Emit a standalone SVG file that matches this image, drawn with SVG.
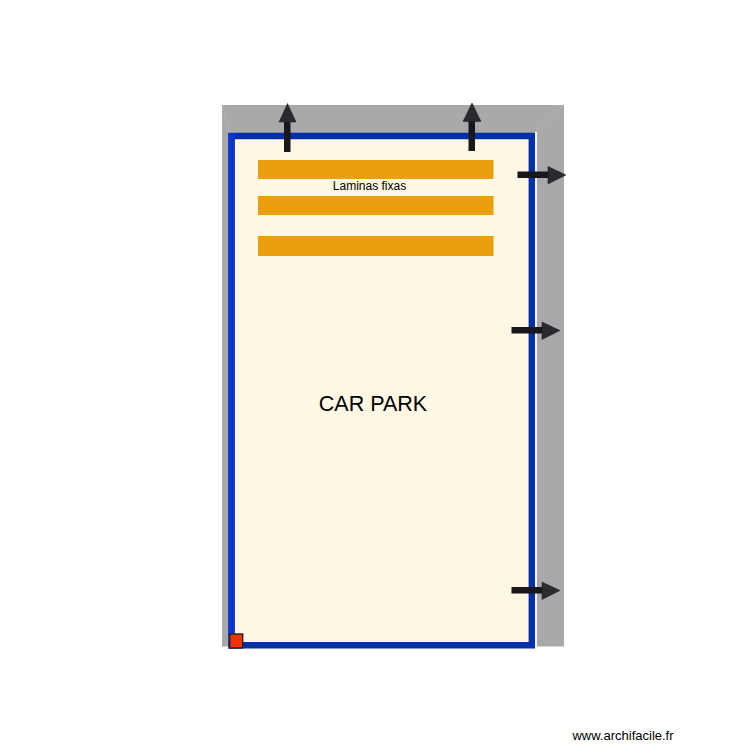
<svg xmlns="http://www.w3.org/2000/svg" width="750" height="750" viewBox="0 0 750 750">
<style>
text{font-family:"Liberation Sans",Arial,sans-serif;fill:#000}
.slat{fill:#ec9f0e}
.shaft{fill:#17171c}
.head{fill:#2a2a30;stroke:#1a1a1e;stroke-width:.5}
</style>
<rect width="750" height="750" fill="#fff"/>
<g id="surround">
<path d="M222 105H564V646.500H222Z" fill="#a9a9a9"/>
<path d="M222 105L230 133M564 105L534 133" stroke="#b8b8b8" stroke-width=".8" fill="none"/>
</g>
<g id="car-park">
<rect x="535" y="132" width="2" height="515" fill="#f4f4f4"/>
<rect x="231" y="135" width="302" height="511" fill="#fdf7e4"/>
<path d="M231.500 136H531.800V645.300H231.500Z" fill="none" stroke="#0431ab" stroke-width="6.400"/>
<path d="M231.500 133V648.500" stroke="#0a35d0" stroke-width="6.400"/>
<text x="373" y="410.500" font-size="21.500" text-anchor="middle">CAR PARK</text>
</g>
<g id="laminas">
<rect class="slat" x="258" y="160" width="235.500" height="19"/>
<rect class="slat" x="258" y="196" width="235.500" height="19"/>
<rect class="slat" x="258" y="236" width="235.500" height="20"/>
<text x="369.500" y="190" font-size="12" text-anchor="middle">Laminas fixas</text>
</g>
<g id="corner-marker">
<rect x="229.700" y="634" width="13" height="14" fill="#f03208" stroke="#222" stroke-width="1.400"/>
</g>
<g id="connectors">
<g id="arrow-top-1"><rect class="shaft" x="284" y="121" width="6.500" height="31"/><path class="head" d="M287.500 103.500L296 122H279Z"/></g>
<g id="arrow-top-2"><rect class="shaft" x="468.500" y="120" width="6.500" height="31"/><path class="head" d="M472 103L481 121.500H463Z"/></g>
<g id="arrow-right-1"><rect class="shaft" x="517.500" y="171.500" width="32" height="6.500"/><path class="head" d="M566 175L548 166.500V184Z"/></g>
<g id="arrow-right-2"><rect class="shaft" x="511.500" y="327" width="32" height="6.500"/><path class="head" d="M560 330.500L542 322V339.500Z"/></g>
<g id="arrow-right-3"><rect class="shaft" x="511.500" y="587" width="32" height="6.500"/><path class="head" d="M560 590.500L542 582V599.500Z"/></g>
</g>
<text x="623" y="740" font-size="13" text-anchor="middle">www.archifacile.fr</text>
</svg>
